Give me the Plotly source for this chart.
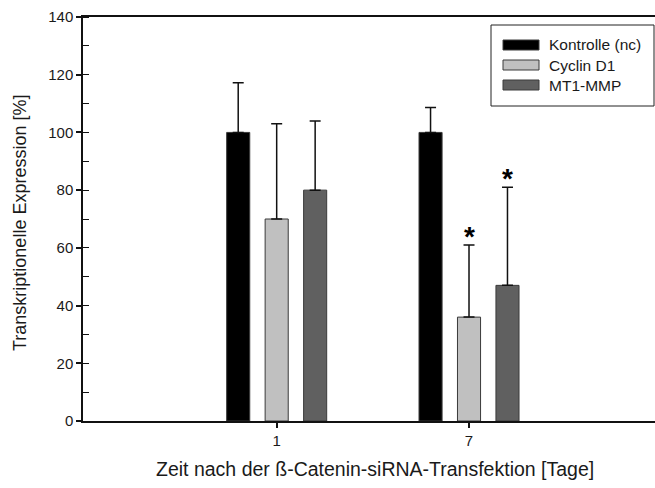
import plotly.graph_objects as go

# Days after transfection (category labels) and series
days = ["1", "7"]
series_names = ["Kontrolle (nc)", "Cyclin D1", "MT1-MMP"]
series_colors = ["#000000", "#c0c0c0", "#606060"]

# Mean expression [%] and upper standard deviation per series
means = [
    [100, 100],   # Kontrolle (nc)
    [70, 36],     # Cyclin D1
    [80, 47],     # MT1-MMP
]
errors_up = [
    [17.2, 8.6],
    [33, 25],
    [24, 34],
]
# Significance markers (*) per series and day
significant = [
    [False, False],
    [False, True],
    [False, True],
]

FONT = "Liberation Sans, Arial, sans-serif"
TEXT = "#1a1a1a"

fig = go.Figure()
for name, color, m, e in zip(series_names, series_colors, means, errors_up):
    fig.add_trace(go.Bar(
        name=name,
        x=days,
        y=m,
        marker=dict(color=color, line=dict(color="#3a3a3a", width=1)),
        error_y=dict(type="data", array=e, arrayminus=[0] * len(e),
                     symmetric=False, color="#111111", thickness=1.5, width=5.5),
        showlegend=False,
    ))

# Asterisks above significant error bars
offsets = [-0.2, 0.0, 0.2]
for si, (m, e, sig) in enumerate(zip(means, errors_up, significant)):
    for di, s in enumerate(sig):
        if s:
            fig.add_annotation(
                x=di + offsets[si], y=m[di] + e[di], xref="x", yref="y",
                text="<b>*</b>", showarrow=False, yanchor="bottom", yshift=-9,
                font=dict(family=FONT, size=28, color="#000"),
            )

# Legend box drawn as shapes + labels
L = 83
PW = 572
PH = 404
TOP = 17


def px_x(px):
    return (px - L) / PW


def px_y(py):
    return (TOP + PH - py) / PH


fig.add_shape(type="rect", xref="paper", yref="paper",
              x0=px_x(491), x1=px_x(654), y0=px_y(106), y1=px_y(25),
              line=dict(color="#222", width=1), fillcolor="white", layer="above")
for i, (name, color) in enumerate(zip(series_names, series_colors)):
    cy = 45 + i * 20
    fig.add_shape(type="rect", xref="paper", yref="paper",
                  x0=px_x(503), x1=px_x(539), y0=px_y(cy + 5), y1=px_y(cy - 5),
                  line=dict(color="#3a3a3a", width=1), fillcolor=color, layer="above")
    fig.add_annotation(xref="paper", yref="paper", x=px_x(547), y=px_y(cy),
                       text=name, showarrow=False, xanchor="left", yanchor="middle",
                       font=dict(family=FONT, size=15.5, color=TEXT))

# Axis titles
fig.add_annotation(xref="paper", yref="paper", x=px_x(375), y=px_y(469),
                   text="Zeit nach der ß-Catenin-siRNA-Transfektion [Tage]",
                   showarrow=False, xanchor="center", yanchor="middle",
                   font=dict(family=FONT, size=19.5, color=TEXT))
fig.add_annotation(xref="paper", yref="paper", x=px_x(20), y=px_y(223),
                   text="Transkriptionelle Expression [%]", textangle=-90,
                   showarrow=False, xanchor="center", yanchor="middle",
                   font=dict(family=FONT, size=18, color=TEXT))

fig.update_layout(
    width=655, height=488,
    margin=dict(l=L, r=0, t=TOP, b=488 - TOP - PH, pad=0),
    paper_bgcolor="white", plot_bgcolor="white",
    barmode="group", bargap=0.4, bargroupgap=0.4,
    font=dict(family=FONT, size=15, color=TEXT),
    xaxis=dict(
        type="category", range=[-1.007, 1.967],
        showline=True, linecolor="#111", linewidth=1.5, mirror=True,
        ticks="outside", ticklen=5, tickwidth=1.5, tickcolor="#111",
        showgrid=False, zeroline=False,
        tickfont=dict(family=FONT, size=15, color=TEXT),
    ),
    yaxis=dict(
        range=[0, 140], dtick=20,
        showline=True, linecolor="#111", linewidth=1.5, mirror=False,
        ticks="outside", ticklen=5, tickwidth=1.5, tickcolor="#111",
        minor=dict(dtick=10, ticks="inside", ticklen=6, tickwidth=1.2, tickcolor="#111"),
        showgrid=False, zeroline=False,
        tickfont=dict(family=FONT, size=15, color=TEXT),
    ),
)

fig.write_html("out.html")
